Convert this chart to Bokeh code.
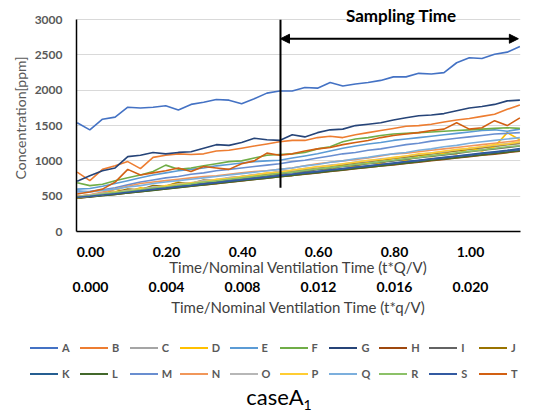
import numpy as np
from bokeh.plotting import figure
from bokeh.layouts import column
from bokeh.models import (LinearAxis, Range1d, Arrow, NormalHead, Div,
                          Label, FixedTicker, NumeralTickFormatter)
from bokeh.embed import file_html
from bokeh.resources import INLINE

# ---------------- data ----------------
t_first, t_last = -0.035, 1.13
n_pts = 36
time = np.linspace(t_first, t_last, n_pts)   # t*Q/V sample grid
q_ratio = 0.02                                # t*q/V = ratio * t*Q/V
sampling_start = 0.5
sampling_line_bottom = 620
arrow_level = 2730
y_max = 3000

names = list("ABCDEFGHIJKLMNOPQRST")
colors = ["#4472C4", "#ED7D31", "#A5A5A5", "#FFC000", "#5B9BD5", "#70AD47", "#264478",
          "#9E480E", "#636363", "#997300", "#255E91", "#43682B", "#698ED0", "#F1975A",
          "#B7B7B7", "#FFCD33", "#7CAFDD", "#8CC168", "#335AA1", "#D26012"]

A = [1540, 1440, 1590, 1620, 1760, 1750, 1760, 1780, 1720, 1800, 1830, 1870, 1860, 1810, 1880, 1960,
     1990, 1990, 2040, 2030, 2110, 2060, 2090, 2110, 2140, 2190, 2190, 2240, 2230, 2250, 2390, 2460,
     2450, 2510, 2540, 2620]
B = [840, 720, 880, 930, 990, 890, 1050, 1080, 1100, 1090, 1100, 1140, 1150, 1180, 1210, 1240,
     1270, 1290, 1290, 1330, 1350, 1330, 1370, 1400, 1430, 1460, 1490, 1500, 1520, 1550, 1580, 1600,
     1630, 1660, 1730, 1790]
C = [490, 505, 525, 545, 570, 595, 615, 640, 660, 685, 705, 725, 745, 770, 790, 810,
     835, 855, 875, 900, 920, 945, 965, 985, 1010, 1030, 1050, 1075, 1095, 1115, 1140, 1160,
     1180, 1200, 1225, 1245]
D = [470, 500, 530, 600, 560, 620, 600, 640, 700, 650, 720, 680, 760, 740, 780, 820,
     800, 860, 830, 900, 870, 940, 920, 980, 960, 1040, 1000, 1080, 1060, 1110, 1100, 1180,
     1140, 1200, 1400, 1300]
E = [600, 610, 640, 680, 720, 760, 800, 830, 860, 880, 900, 930, 950, 970, 990, 1000,
     1010, 1040, 1070, 1100, 1140, 1180, 1210, 1240, 1260, 1290, 1310, 1330, 1350, 1370, 1390, 1410,
     1430, 1440, 1420, 1450]
F = [690, 650, 670, 720, 760, 800, 850, 940, 880, 900, 930, 960, 990, 1000, 1040, 1080,
     1090, 1100, 1120, 1170, 1200, 1270, 1310, 1330, 1360, 1380, 1390, 1400, 1410, 1420, 1430, 1440,
     1450, 1460, 1470, 1460]
G = [712, 790, 860, 900, 1060, 1080, 1120, 1100, 1120, 1130, 1180, 1230, 1220, 1260, 1320, 1300,
     1290, 1370, 1340, 1400, 1440, 1450, 1500, 1520, 1540, 1580, 1610, 1640, 1650, 1670, 1710, 1750,
     1770, 1800, 1850, 1860]
H = [470, 488, 509, 526, 547, 563, 585, 602, 623, 640, 661, 678, 699, 716, 737, 754,
     775, 792, 813, 830, 851, 868, 889, 906, 927, 944, 965, 982, 1003, 1020, 1041, 1058,
     1079, 1096, 1117, 1138]
I = [485, 500, 520, 540, 560, 580, 605, 625, 645, 665, 690, 710, 730, 750, 770, 790,
     815, 835, 855, 875, 895, 920, 940, 960, 980, 1000, 1025, 1045, 1065, 1085, 1105, 1130,
     1150, 1170, 1190, 1210]
J = [500, 515, 540, 560, 600, 590, 650, 640, 690, 680, 730, 720, 760, 780, 800, 820,
     845, 865, 885, 910, 930, 950, 975, 995, 1015, 1040, 1060, 1080, 1105, 1125, 1145, 1170,
     1190, 1210, 1235, 1255]
K = [480, 495, 515, 530, 550, 570, 590, 610, 630, 650, 670, 690, 710, 730, 750, 770,
     790, 810, 830, 850, 870, 890, 910, 930, 950, 970, 990, 1010, 1030, 1050, 1070, 1090,
     1110, 1130, 1150, 1175]
L = [475, 490, 508, 525, 545, 565, 583, 602, 622, 640, 660, 680, 698, 718, 737, 756,
     776, 795, 814, 834, 853, 872, 892, 911, 930, 950, 969, 988, 1008, 1027, 1046, 1066,
     1085, 1104, 1124, 1143]
M = [560, 570, 590, 620, 660, 700, 730, 760, 780, 810, 830, 860, 880, 900, 920, 940,
     960, 990, 1010, 1040, 1070, 1100, 1120, 1150, 1170, 1200, 1230, 1250, 1280, 1300, 1320, 1340,
     1360, 1380, 1390, 1400]
N = [500, 520, 560, 600, 640, 680, 700, 720, 740, 760, 780, 790, 810, 830, 850, 860,
     880, 900, 930, 960, 980, 1000, 1020, 1040, 1070, 1100, 1110, 1130, 1150, 1170, 1190, 1210,
     1230, 1250, 1270, 1290]
O = [495, 515, 540, 555, 585, 600, 630, 645, 675, 690, 720, 735, 765, 780, 805, 825,
     850, 865, 895, 910, 940, 955, 985, 1000, 1030, 1045, 1070, 1090, 1115, 1130, 1160, 1175,
     1200, 1220, 1245, 1260]
P = [480, 500, 520, 560, 570, 600, 610, 650, 660, 690, 700, 740, 750, 780, 800, 830,
     840, 870, 890, 920, 930, 960, 980, 1010, 1020, 1050, 1070, 1100, 1110, 1140, 1160, 1180,
     1200, 1230, 1240, 1270]
Q = [580, 560, 580, 600, 630, 650, 680, 700, 720, 740, 760, 780, 800, 820, 840, 860,
     880, 900, 930, 950, 980, 1000, 1030, 1050, 1080, 1100, 1120, 1150, 1170, 1200, 1220, 1250,
     1270, 1290, 1310, 1330]
R = [490, 505, 530, 550, 570, 590, 615, 630, 655, 675, 700, 715, 740, 760, 780, 800,
     825, 840, 865, 885, 905, 925, 950, 965, 990, 1010, 1030, 1050, 1075, 1090, 1115, 1135,
     1155, 1175, 1200, 1215]
S = [485, 498, 518, 535, 557, 575, 596, 614, 636, 652, 675, 692, 714, 731, 753, 770,
     792, 810, 830, 848, 870, 887, 909, 926, 948, 965, 987, 1004, 1026, 1043, 1065, 1082,
     1104, 1121, 1143, 1160]
T = [530, 560, 600, 700, 880, 800, 830, 860, 900, 850, 920, 900, 880, 960, 1000, 1110,
     1080, 1100, 1140, 1170, 1190, 1230, 1260, 1290, 1330, 1360, 1380, 1400, 1430, 1450, 1540, 1450,
     1470, 1570, 1500, 1610]

series = [A, B, C, D, E, F, G, H, I, J, K, L, M, N, O, P, Q, R, S, T]

y_ticks = [0, 500, 1000, 1500, 2000, 2500, 3000]
x_ticks = [0.0, 0.2, 0.4, 0.6, 0.8, 1.0]
xq_ticks = [0.0, 0.004, 0.008, 0.012, 0.016, 0.020]
caption_main, caption_sub = "caseA", "1"

FONT = "Lato"
x_lo, x_hi = t_first - 0.0018, t_last + 0.0016

# ---------------- main chart ----------------
p = figure(width=549, height=330, output_backend="svg", toolbar_location=None,
           x_range=Range1d(x_lo, x_hi), y_range=Range1d(0, 3215),
           min_border_left=76, min_border_right=29, min_border_top=4, min_border_bottom=99)
p.outline_line_color = None
p.background_fill_color = "white"
p.xgrid.visible = False
p.ygrid.grid_line_color = "#D9D9D9"
p.ygrid.grid_line_width = 1
p.ygrid.ticker = FixedTicker(ticks=y_ticks)

for nm, col, vals in zip(names, colors, series):
    p.line(time, vals, line_color=col, line_width=1.6)

# sampling start line & arrow
p.segment(x0=[sampling_start], y0=[sampling_line_bottom], x1=[sampling_start], y1=[y_max],
          line_color="black", line_width=2)
p.add_layout(Arrow(x_start=sampling_start, y_start=arrow_level, x_end=t_last - 0.004, y_end=arrow_level,
                   line_color="black", line_width=2,
                   start=NormalHead(size=9, fill_color="black", line_color="black"),
                   end=NormalHead(size=9, fill_color="black", line_color="black")))
p.add_layout(Label(x=0.818, y=y_max, text="Sampling Time", text_align="center",
                   text_baseline="middle", y_offset=4, text_font=FONT, text_font_size="17px",
                   text_font_style="bold", text_color="black"))

# y axis
ya = p.yaxis[0]
ya.bounds = (0, y_max)
ya.ticker = FixedTicker(ticks=y_ticks)
ya.formatter = NumeralTickFormatter(format="0")
ya.axis_label = "Concentration[ppm]"
ya.axis_label_text_font = FONT
ya.axis_label_text_font_size = "14px"
ya.axis_label_text_font_style = "normal"
ya.axis_label_text_color = "#595959"
ya.axis_label_standoff = 3
ya.major_label_text_font = FONT
ya.major_label_text_font_size = "12px"
ya.major_label_text_font_style = "bold"
ya.major_label_text_color = "#595959"
ya.major_label_standoff = 8
ya.major_tick_line_color = None
ya.minor_tick_line_color = None
ya.axis_line_color = "black"
ya.axis_line_width = 1.5

def style_x(ax, label):
    ax.axis_label = label
    ax.axis_label_text_font = FONT
    ax.axis_label_text_font_size = "15px"
    ax.axis_label_text_font_style = "normal"
    ax.axis_label_text_color = "#404040"
    ax.major_label_text_font = FONT
    ax.major_label_text_font_size = "14px"
    ax.major_label_text_font_style = "bold"
    ax.major_label_text_color = "black"
    ax.major_tick_line_color = None
    ax.minor_tick_line_color = None

xa = p.xaxis[0]
xa.ticker = FixedTicker(ticks=x_ticks)
xa.formatter = NumeralTickFormatter(format="0.00")
style_x(xa, "Time/Nominal Ventilation Time (t*Q/V)")
xa.major_label_standoff = 9
xa.axis_label_standoff = -2
xa.axis_line_color = "black"
xa.axis_line_width = 1.5

p.extra_x_ranges = {"q": Range1d(x_lo * q_ratio, x_hi * q_ratio)}
xq = LinearAxis(x_range_name="q")
xq.ticker = FixedTicker(ticks=xq_ticks)
xq.formatter = NumeralTickFormatter(format="0.000")
style_x(xq, "Time/Nominal Ventilation Time (t*q/V)")
xq.major_label_standoff = -3
xq.axis_label_standoff = 3
xq.axis_line_color = None
p.add_layout(xq, "below")

# ---------------- legend + caption (HTML strip) ----------------
pitch, key_len, x0, row_y = 49.9, 28, 30, [18, 44]
parts = []
for i, (nm, col) in enumerate(zip(names, colors)):
    r, c = divmod(i, 10)
    lx = x0 + c * pitch
    ty = row_y[r]
    parts.append(f'<div style="position:absolute;left:{lx:.1f}px;top:{ty - 1}px;width:{key_len}px;'
                 f'height:2px;background:{col};"></div>')
    parts.append(f'<div style="position:absolute;left:{lx + key_len + 4:.1f}px;top:{ty - 8}px;'
                 f'height:16px;line-height:16px;font-family:{FONT};font-size:11px;font-weight:bold;'
                 f'color:#595959;">{nm}</div>')
parts.append(f'<div style="position:absolute;left:0px;top:54px;width:558px;text-align:center;'
             f'font-family:{FONT};font-size:22px;line-height:26px;color:black;">'
             f'{caption_main}<sub style="font-size:14px;">{caption_sub}</sub></div>')
html = '<div style="position:relative;width:549px;height:86px;">' + "".join(parts) + '</div>'
strip = Div(text=html, width=549, height=86, margin=0)

layout = column(p, strip, spacing=0)
open("out.html", "w").write(file_html(layout, INLINE))
